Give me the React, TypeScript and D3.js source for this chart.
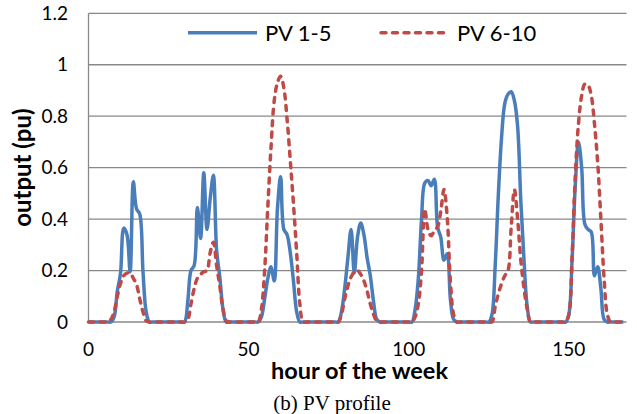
import * as d3 from 'd3'

const xTicks = [0, 50, 100, 150]
const yTicks = [0, 0.2, 0.4, 0.6, 0.8, 1, 1.2]
const yLabels = ['0', '0.2', '0.4', '0.6', '0.8', '1', '1.2']

// hourly output, one row per day
const pv15 = [
  0, 0, 0, 0, 0, 0, 0, 0, 0.02, 0.12, 0.19, 0.365, 0.34, 0.195, 0.545, 0.44, 0.42, 0.2, 0.04, 0, 0, 0, 0, 0,
  0, 0, 0, 0, 0, 0, 0, 0.08, 0.2, 0.22, 0.445, 0.325, 0.58, 0.36, 0.48, 0.57, 0.28, 0.175, 0.05, 0, 0, 0, 0, 0,
  0, 0, 0, 0, 0, 0, 0.02, 0.09, 0.17, 0.215, 0.16, 0.44, 0.565, 0.36, 0.34, 0.27, 0.16, 0.04, 0, 0, 0, 0, 0, 0,
  0, 0, 0, 0, 0, 0, 0, 0.04, 0.13, 0.25, 0.36, 0.19, 0.33, 0.385, 0.34, 0.25, 0.18, 0.08, 0.01, 0, 0, 0, 0, 0,
  0, 0, 0, 0, 0, 0, 0.05, 0.17, 0.4, 0.54, 0.55, 0.53, 0.555, 0.37, 0.33, 0.24, 0.265, 0.09, 0.01, 0, 0, 0, 0, 0,
  0, 0, 0, 0, 0, 0, 0.03, 0.22, 0.5, 0.72, 0.85, 0.885, 0.895, 0.86, 0.76, 0.47, 0.24, 0.06, 0, 0, 0, 0, 0, 0,
  0, 0, 0, 0, 0, 0, 0.03, 0.24, 0.53, 0.7, 0.6, 0.38, 0.36, 0.35, 0.18, 0.215, 0.13, 0.01, 0, 0, 0, 0, 0, 0,
]
const pv610 = [
  0, 0, 0, 0, 0, 0, 0, 0.01, 0.04, 0.1, 0.15, 0.18, 0.19, 0.19, 0.17, 0.145, 0.09, 0.04, 0.005, 0, 0, 0, 0, 0,
  0, 0, 0, 0, 0, 0, 0, 0.01, 0.07, 0.13, 0.17, 0.185, 0.195, 0.2, 0.27, 0.31, 0.22, 0.14, 0.05, 0.005, 0, 0, 0, 0,
  0, 0, 0, 0, 0, 0, 0.05, 0.2, 0.45, 0.68, 0.86, 0.93, 0.955, 0.91, 0.79, 0.63, 0.46, 0.27, 0.07, 0, 0, 0, 0, 0,
  0, 0, 0, 0, 0, 0, 0, 0.03, 0.09, 0.14, 0.175, 0.195, 0.2, 0.185, 0.16, 0.12, 0.07, 0.03, 0.005, 0, 0, 0, 0, 0,
  0, 0, 0, 0, 0, 0, 0.02, 0.07, 0.2, 0.44, 0.36, 0.335, 0.355, 0.37, 0.43, 0.515, 0.41, 0.16, 0.03, 0, 0, 0, 0, 0,
  0, 0, 0, 0, 0, 0, 0, 0.06, 0.11, 0.15, 0.18, 0.2, 0.37, 0.515, 0.4, 0.24, 0.13, 0.05, 0, 0, 0, 0, 0, 0,
  0, 0, 0, 0, 0, 0, 0.03, 0.25, 0.565, 0.77, 0.88, 0.925, 0.92, 0.88, 0.77, 0.62, 0.4, 0.17, 0.03, 0, 0, 0, 0, 0,
]

const series = [
  { name: 'PV 1-5', values: pv15, color: '#4a7ebb', dash: undefined as string | undefined },
  { name: 'PV 6-10', values: pv610, color: '#be4b48', dash: '5,6.5' },
]

const W = 637, H = 414
const FONT = 'Lato, "Open Sans", sans-serif'

export default function App() {
  const x = d3.scaleLinear().domain([0, 168]).range([88.5, 626.5])
  const y = d3.scaleLinear().domain([0, 1.2]).range([322, 13.3])
  const line = d3.line<number>()
    .x((_, i) => x(i))
    .y(d => y(d))
    .curve(d3.curveCatmullRom.alpha(0.5))
  const legend = [
    { x1: 188, x2: 257, tx: 265 },
    { x1: 381, x2: 450, tx: 457 },
  ]
  return (
    <svg width={W} height={H} style={{ position: 'absolute', left: 0, top: 0, background: '#fff' }}>
      {yTicks.map((t, i) => (
        <g key={t}>
          <line x1={x(0)} x2={x(168)} y1={y(t)} y2={y(t)} stroke="#888" strokeWidth={1.3} />
          <text x={68} y={y(t)} dy="0.35em" textAnchor="end" fontFamily={FONT} fontSize={19} fill="#000">{yLabels[i]}</text>
        </g>
      ))}
      <line x1={x(0)} x2={x(0)} y1={y(1.2)} y2={y(0)} stroke="#888" strokeWidth={1.3} />
      {xTicks.map(t => (
        <text key={t} x={x(t)} y={356} textAnchor="middle" fontFamily={FONT} fontSize={19} fill="#000">{t}</text>
      ))}
      {series.map(s => (
        <path key={s.name} d={line(s.values) || ''} fill="none" stroke={s.color} strokeWidth={3.5}
          strokeDasharray={s.dash} strokeLinecap={s.dash ? 'round' : 'butt'} strokeLinejoin="round" />
      ))}
      {series.map((s, i) => (
        <g key={s.name}>
          <line x1={legend[i].x1} x2={legend[i].x2} y1={32.7} y2={32.7} stroke={s.color} strokeWidth={3.5}
            strokeDasharray={s.dash} strokeLinecap={s.dash ? 'round' : 'butt'} />
          <text x={legend[i].tx} y={40.7} fontFamily={FONT} fontSize={22} fill="#000">{s.name}</text>
        </g>
      ))}
      <text transform={`translate(31,${(y(0) + y(1.2)) / 2}) rotate(-90)`} textAnchor="middle"
        fontFamily={FONT} fontWeight="bold" fontSize={24} fill="#000">output (pu)</text>
      <text x={(x(0) + x(168)) / 2 + 2} y={378.5} textAnchor="middle" fontFamily={FONT} fontWeight="bold" fontSize={23.5} fill="#000">hour of the week</text>
      <text x={332} y={410} textAnchor="middle" fontFamily='"Liberation Serif", "Times New Roman", serif' fontSize={21} fill="#000">(b) PV profile</text>
    </svg>
  )
}
